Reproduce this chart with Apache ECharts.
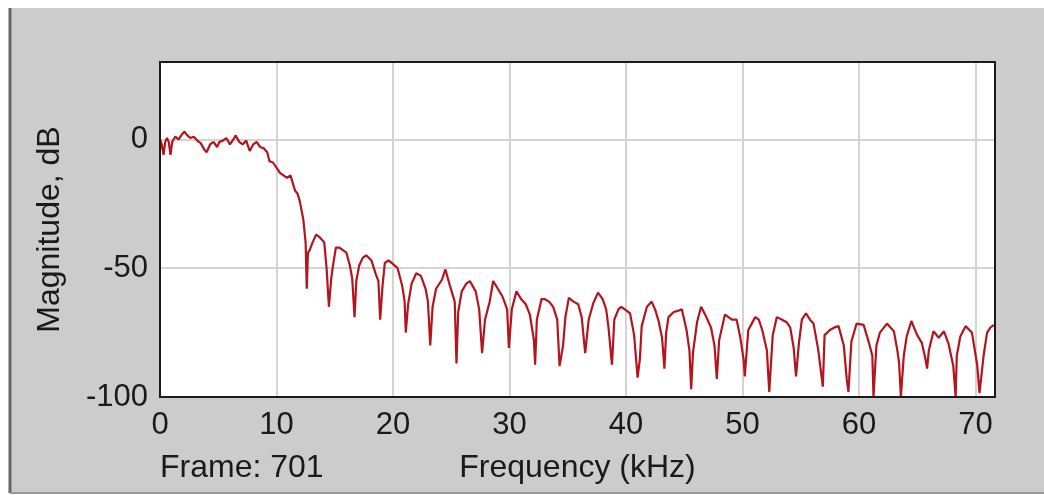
<!DOCTYPE html>
<html>
<head>
<meta charset="utf-8">
<script src="https://cdn.jsdelivr.net/npm/echarts@6/dist/echarts.min.js"></script>
<style>
html,body{margin:0;padding:0;background:#ffffff;}
#chart{width:1044px;height:495px;}
</style>
</head>
<body>
<div id="chart"></div>
<script>
// Frequency (kHz) of traced points
const freqKHz = [0,0.15,0.3,0.45,0.6,0.75,0.9,1.05,1.3,1.6,1.9,2.1,2.35,2.6,2.9,3.2,3.5,3.8,4.0,4.3,4.6,4.9,5.1,5.4,5.7,6.0,6.3,6.5,6.8,7.1,7.4,7.7,8.0,8.3,8.6,8.9,9.2,9.4,9.7,10.0,10.3,10.6,10.9,11.2,11.4,11.6,11.8,12.0,12.3,12.5,12.6,12.7,12.85,13.1,13.4,13.7,14.1,14.3,14.5,14.7,14.85,15.1,15.4,15.7,16.0,16.3,16.5,16.7,16.85,17.1,17.4,17.7,18.15,18.5,18.75,18.9,19.1,19.3,19.6,19.9,20.4,20.8,21.0,21.1,21.3,21.6,22.0,22.4,22.8,23.0,23.2,23.4,23.7,24.2,24.5,24.9,25.3,25.45,25.6,25.9,26.3,26.6,27.1,27.4,27.65,27.9,28.3,28.6,29.0,29.4,29.8,29.95,30.2,30.6,31.0,31.4,31.75,32.1,32.2,32.35,32.75,33.0,33.4,33.75,34.1,34.3,34.6,34.8,35.1,35.5,35.9,36.2,36.5,36.8,37.2,37.6,38.0,38.3,38.5,38.8,39.0,39.35,39.6,39.9,40.35,40.7,41.0,41.2,41.35,41.8,42.2,42.5,42.8,43.1,43.3,43.45,43.65,44.1,44.5,44.8,45.2,45.45,45.6,45.75,46.1,46.45,46.9,47.3,47.6,47.8,48.0,48.5,49.1,49.5,49.8,50.1,50.2,50.5,51.1,51.4,51.7,52.1,52.3,52.6,52.95,53.4,53.8,54.1,54.4,54.6,54.85,55.1,55.45,55.8,56.1,56.5,56.9,57.05,57.5,57.9,58.25,58.7,58.95,59.1,59.35,59.8,60.4,60.8,61.15,61.25,61.5,61.8,62.4,63.0,63.3,63.45,63.6,63.85,64.1,64.5,65.0,65.4,65.7,65.85,66.0,66.4,66.85,67.3,67.7,68.1,68.3,68.4,68.7,69.15,69.7,70.15,70.35,70.7,71.0,71.3,71.6];
// Magnitude (dB) of traced points
const magnitudeDb = [0,-2,-6,-1,0.5,-1,-6,-1,1,0,2,3,1.5,0.5,1,-0.5,-1.5,-4,-5,-2,-1,-3,-1,-0.5,0.5,-2,0,1.5,-1,-2,-0.5,-4.5,-2,-1,-3,-3.5,-5,-8.5,-9,-11,-13,-14,-15,-14,-17,-20,-21,-24,-31,-40,-58,-44,-43,-40,-37,-38,-40,-50,-65,-54,-49,-42,-42,-43,-44,-49,-54,-69,-55,-49,-46,-45,-47,-52,-55,-70,-57,-48,-47,-48,-50,-57,-63,-75,-64,-56,-52,-53,-58,-63,-80,-65,-58,-54.5,-50.5,-57,-63,-87,-67,-59,-56,-55,-59,-66,-83,-70,-63,-55,-58,-61,-66,-81,-66,-59,-62,-64,-68,-78,-87.5,-70,-62,-62,-63,-65,-70,-88,-80,-69,-61.5,-63,-64,-69,-83,-70,-63.5,-59.5,-62,-66,-73,-87.5,-70,-66,-65,-66,-67.5,-76,-92.5,-85,-72.5,-65,-63,-66,-70.5,-77,-89,-75,-69,-67,-66.5,-66,-74,-82,-97,-83,-71,-65,-69,-73,-80,-93,-78,-68,-70,-70,-76.5,-85.5,-92,-74,-69,-70,-74,-82,-98,-76,-69,-70,-71,-73,-81,-92,-79,-70,-67.5,-70,-71.5,-81.5,-96,-76,-74,-73,-72.5,-80,-93,-98,-78.5,-71.5,-72,-78,-84,-100,-80,-75,-71.5,-74.5,-82,-87,-100,-84,-76.5,-70.5,-76,-79,-85,-89,-82,-74.5,-77,-74.5,-79.5,-88,-100,-84,-76.5,-72.5,-75,-87.5,-98.5,-84,-75,-73,-72];
const xTicks = [0,10,20,30,40,50,60,70];
const yTicks = [-100,-50,0];
const frameLabel = 'Frame: 701';

const seriesData = freqKHz.map((f, i) => [f, magnitudeDb[i]]);
const FONT = '"Liberation Sans", Arial, sans-serif';
const TXT = '#1a1a1a';

const chart = echarts.init(document.getElementById('chart'), null, {renderer: 'canvas'});
chart.setOption({
  animation: false,
  backgroundColor: '#ffffff',
  graphic: [
    {type: 'rect', z: -10, shape: {x: 10, y: 8, width: 1034, height: 485}, style: {fill: '#cccccc'}},
    {type: 'line', z: -9, shape: {x1: 10, y1: 8, x2: 10, y2: 493}, style: {stroke: '#666666', lineWidth: 3}},
    {type: 'line', z: -9, shape: {x1: 10, y1: 493, x2: 1044, y2: 493}, style: {stroke: '#9a9a9a', lineWidth: 2}},
    {type: 'rect', z: 100, shape: {x: 160, y: 62, width: 835, height: 335}, style: {fill: 'none', stroke: '#1a1a1a', lineWidth: 2}},
    {type: 'text', left: 160, top: 452, style: {text: frameLabel, font: '32px ' + FONT, fill: TXT}}
  ],
  grid: {left: 160, right: 49, top: 62, bottom: 98, show: true, backgroundColor: '#ffffff', borderColor: '#1a1a1a', borderWidth: 0},
  xAxis: {
    type: 'value', min: 0, max: 71.68, interval: 10,
    name: 'Frequency (kHz)', nameLocation: 'middle', nameGap: 55,
    nameTextStyle: {fontSize: 32, fontFamily: FONT, color: TXT},
    axisLine: {show: false}, axisTick: {show: false},
    axisLabel: {fontSize: 31, fontFamily: FONT, color: TXT, margin: 13,
      formatter: v => xTicks.indexOf(Math.round(v)) >= 0 && Math.abs(v - Math.round(v)) < 1e-6 ? String(Math.round(v)) : ''},
    splitLine: {show: true, lineStyle: {color: '#d4d4d4', width: 2}}
  },
  yAxis: {
    type: 'value', min: -100, max: 30, interval: 50,
    name: 'Magnitude, dB', nameLocation: 'middle', nameGap: 94,
    nameTextStyle: {fontSize: 32, fontFamily: FONT, color: TXT},
    axisLine: {show: false}, axisTick: {show: false},
    axisLabel: {fontSize: 31, fontFamily: FONT, color: TXT, margin: 12,
      formatter: v => yTicks.indexOf(v) >= 0 ? String(v) : ''},
    splitLine: {show: true, lineStyle: {color: '#d4d4d4', width: 2}}
  },
  series: [{
    type: 'line', data: seriesData, showSymbol: false, clip: true,
    lineStyle: {color: '#b4141c', width: 2.2}, z: 3
  }]
});
</script>
</body>
</html>
